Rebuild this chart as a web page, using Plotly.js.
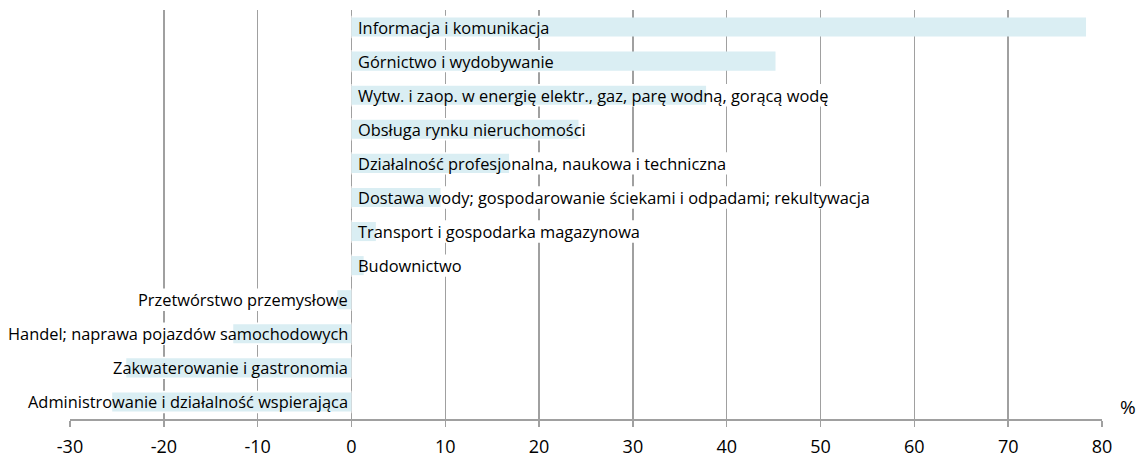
<!DOCTYPE html>
<html>
<head>
<meta charset="utf-8">
<script src="https://cdn.plot.ly/plotly-3.0.1.min.js"></script>
<style>html,body{margin:0;padding:0;background:#fff;}#chart{width:1138px;height:461px;}</style>
</head>
<body>
<div id="chart"></div>
<script>
const categories = [
  "Informacja i komunikacja",
  "Górnictwo i wydobywanie",
  "Wytw. i zaop. w energię elektr., gaz, parę wodną, gorącą wodę",
  "Obsługa rynku nieruchomości",
  "Działalność profesjonalna, naukowa i techniczna",
  "Dostawa wody; gospodarowanie ściekami i odpadami; rekultywacja",
  "Transport i gospodarka magazynowa",
  "Budownictwo",
  "Przetwórstwo przemysłowe",
  "Handel; naprawa pojazdów samochodowych",
  "Zakwaterowanie i gastronomia",
  "Administrowanie i działalność wspierająca"
];
const values = [78.3, 45.2, 37.8, 24.2, 16.8, 9.5, 2.6, 1.3, -1.5, -12.6, -24.0, -25.5];
const tickVals = [-30, -20, -10, 0, 10, 20, 30, 40, 50, 60, 70, 80];
const unitLabel = "%";

const FONT = "Open Sans, sans-serif";
const LABEL_SIZE = 16.4;
const GRID = "#a0a0a0";
const W = 1138, H = 461;
const M = {l: 70, r: 36, t: 10, b: 42};
const X_RANGE = [-30, 80];

// white boxes behind the category labels (the original hides gridlines there)
const ctx = document.createElement("canvas").getContext("2d");
ctx.font = LABEL_SIZE + "px 'Open Sans'";
const pxPerUnit = (W - M.l - M.r) / (X_RANGE[1] - X_RANGE[0]);
const shapes = categories.map((c, i) => {
  const wUnits = (ctx.measureText(c).width + 10) / pxPerUnit;
  const pos = values[i] >= 0;
  return {
    type: "rect", xref: "x", yref: "y",
    x0: pos ? 0 : -wUnits, x1: pos ? wUnits : 0,
    y0: i - 0.33, y1: i + 0.33,
    fillcolor: "#ffffff", line: {width: 0},
    layer: "between"
  };
});

const trace = {
  type: "bar",
  orientation: "h",
  x: values,
  y: categories,
  width: 0.56,
  marker: {color: "#daeef3", line: {width: 0}},
  hoverinfo: "x+y"
};

const annotations = categories.map((c, i) => ({
  x: 0,
  y: c,
  xref: "x",
  yref: "y",
  text: c,
  showarrow: false,
  xanchor: values[i] >= 0 ? "left" : "right",
  xshift: values[i] >= 0 ? 5 : -1,
  yanchor: "middle",
  font: {family: FONT, size: LABEL_SIZE, color: "#000"}
}));
annotations.push({
  x: 1, xref: "paper", xshift: 26,
  y: 0, yref: "paper", yshift: 12,
  text: unitLabel, showarrow: false,
  xanchor: "center", yanchor: "middle",
  font: {family: FONT, size: 19, color: "#000"}
});

const layout = {
  width: W,
  height: H,
  margin: M,
  paper_bgcolor: "#fff",
  plot_bgcolor: "#fff",
  showlegend: false,
  font: {family: FONT, size: 16, color: "#000"},
  xaxis: {
    range: X_RANGE,
    tickvals: tickVals,
    ticktext: tickVals.map(String),
    showgrid: true,
    gridcolor: GRID,
    gridwidth: 1.5,
    zeroline: true,
    zerolinecolor: GRID,
    zerolinewidth: 1.5,
    showline: true,
    linecolor: GRID,
    linewidth: 1.5,
    ticks: "outside",
    ticklen: 6,
    tickcolor: GRID,
    tickwidth: 1.5,
    ticklabelstandoff: 5,
    tickfont: {family: FONT, size: 18, color: "#000"},
    fixedrange: true
  },
  yaxis: {
    type: "category",
    categoryorder: "array",
    categoryarray: categories,
    autorange: "reversed",
    showticklabels: false,
    showgrid: false,
    zeroline: false,
    showline: false,
    ticks: "",
    fixedrange: true
  },
  shapes: shapes,
  annotations: annotations
};

Plotly.newPlot("chart", [trace], layout, {displayModeBar: false, staticPlot: true});
</script>
</body>
</html>
